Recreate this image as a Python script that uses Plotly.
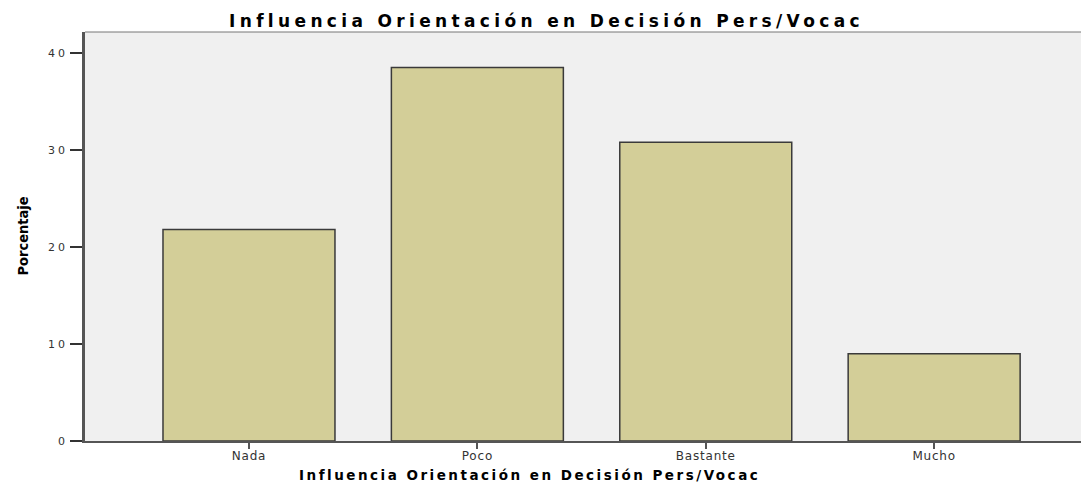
import plotly.graph_objects as go

categories = ["Nada", "Poco", "Bastante", "Mucho"]
values = [21.8, 38.5, 30.8, 9.0]
y_ticks = [0, 10, 20, 30, 40]
title_text = "Influencia Orientación en Decisión Pers/Vocac"
y_title = "Porcentaje"


def spaced(t, px):
    return '<span style="letter-spacing:%spx">%s</span>' % (px, t)


fig = go.Figure()
fig.add_trace(go.Bar(
    x=categories, y=values, width=0.753,
    marker=dict(color="#D3CE98", line=dict(color="#3a3a3a", width=1.5)),
))

OFF = 8  # default page body margin
W, H = 1089 - OFF, 484 - OFF
L, T = 85 - OFF, 32 - OFF
B = H - (441 - OFF)
fig.update_layout(
    width=W, height=H,
    margin=dict(l=L, r=0, t=T, b=B, autoexpand=False),
    paper_bgcolor="white", plot_bgcolor="#F0F0F0",
    showlegend=False,
    font=dict(family="DejaVu Sans", size=12, color="#333"),
)
fig.update_xaxes(
    range=[-0.718, 3.678], showgrid=False, zeroline=False, automargin=False,
    showline=True, linecolor="#555", linewidth=2,
    ticks="outside", ticklen=6, tickcolor="#555", tickwidth=2,
    tickvals=categories, ticktext=[spaced(c, 0.8) for c in categories],
    ticklabelstandoff=-3,
    tickfont=dict(family="DejaVu Sans", size=12, color="#333"),
)
fig.update_yaxes(
    range=[0, 42.16], tickvals=y_ticks, ticktext=[spaced(str(v), 3) for v in y_ticks],
    showgrid=False, zeroline=False, automargin=False,
    showline=True, linecolor="#555", linewidth=2.5,
    ticks="outside", ticklen=12, tickcolor="#333", tickwidth=1.5,
    tickfont=dict(family="DejaVu Sans", size=11, color="#333"),
)
fig.add_shape(type="line", xref="paper", yref="paper", x0=0, x1=1, y0=1, y1=1,
              line=dict(color="#777", width=1))

pw = W - L
ph = H - T - B


def px_x(page_x):
    return (page_x - OFF - L) / pw


def px_y(page_y):
    return (H - B - (page_y - OFF)) / ph


fig.add_annotation(text="<b>" + spaced(title_text, 4.35) + "</b>", xref="paper", yref="paper",
                   x=px_x(546), y=px_y(21), xanchor="center", yanchor="middle",
                   showarrow=False, font=dict(family="DejaVu Sans", size=17, color="black"))
fig.add_annotation(text="<b>" + spaced(title_text, 2.5) + "</b>", xref="paper", yref="paper",
                   x=px_x(529.5), y=px_y(475), xanchor="center", yanchor="middle",
                   showarrow=False, font=dict(family="DejaVu Sans", size=13.5, color="black"))
fig.add_annotation(text="<b>" + y_title + "</b>", xref="paper", yref="paper",
                   x=px_x(22), y=px_y(236.5), xanchor="center", yanchor="middle",
                   textangle=-90, showarrow=False,
                   font=dict(family="Liberation Sans Narrow, DejaVu Sans Condensed", size=14.5, color="black"))

fig.write_html("out.html")
